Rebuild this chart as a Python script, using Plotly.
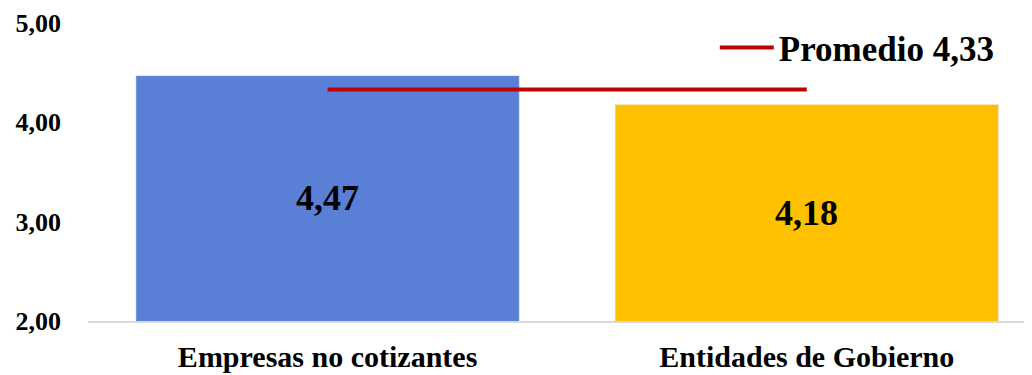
import plotly.graph_objects as go

categories = ["Empresas no cotizantes", "Entidades de Gobierno"]
values = [4.47, 4.18]
bar_colors = ["#5A7FD6", "#FFC000"]
promedio = 4.33
promedio_name = "Promedio 4,33"
y_min = 2

FONT = "Liberation Serif"

fig = go.Figure()
fig.add_trace(go.Bar(
    x=categories, y=values, marker_color=bar_colors, width=0.8,
    showlegend=False, hoverinfo="skip",
))
fig.add_trace(go.Scatter(
    x=categories, y=[promedio] * len(categories), mode="lines",
    line=dict(color="#C00000", width=4), name=promedio_name,
))
for c, v in zip(categories, values):
    fig.add_annotation(x=c, y=(y_min + v) / 2, text=f"{v:.2f}".replace(".", ","),
                       showarrow=False,
                       font=dict(family=FONT, size=36, color="black", weight="bold"))

# page body has an 8px margin, so the figure is 8px smaller and margins shifted
fig.update_layout(
    width=1024, height=367,
    margin=dict(l=80, r=0, t=15, b=54),
    paper_bgcolor="white", plot_bgcolor="white",
    separators=",.",
    font=dict(family=FONT, size=26, color="black", weight="bold"),
    showlegend=True,
    legend=dict(x=0.664, y=0.917, xanchor="left", yanchor="middle", itemwidth=54,
                font=dict(family=FONT, size=35, color="black", weight="bold"),
                bgcolor="rgba(0,0,0,0)"),
)
fig.update_xaxes(range=[-0.5, 1.47], showgrid=False, showline=True, linecolor="#D9D9D9",
                 linewidth=1.5, ticks="", ticklabelstandoff=8, automargin=False,
                 tickfont=dict(family=FONT, size=30, color="black", weight="bold"))
fig.update_yaxes(range=[y_min, 5], dtick=1, tickformat=".2f", showgrid=False, showline=False,
                 zeroline=False, ticks="", ticklabelstandoff=26, automargin=False,
                 tickfont=dict(family=FONT, size=26, color="black", weight="bold"))

fig.write_html("out.html")
